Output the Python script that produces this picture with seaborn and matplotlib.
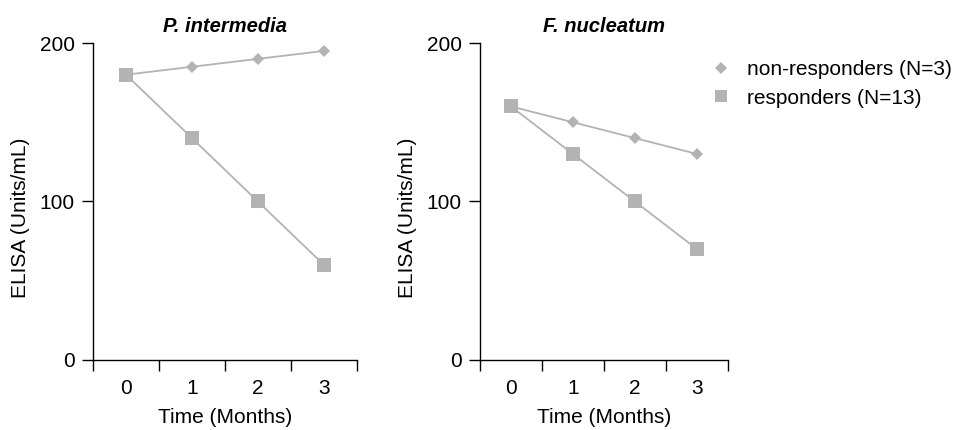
import pandas as pd
import seaborn as sns
import matplotlib.pyplot as plt
from matplotlib.lines import Line2D

months = [0, 1, 2, 3]
groups = ['non-responders (N=3)', 'responders (N=13)']

# P. intermedia
pi_non = [180, 185, 190, 195]
pi_resp = [180, 140, 100, 60]
# F. nucleatum
fn_non = [160, 150, 140, 130]
fn_resp = [160, 130, 100, 70]

def make_df(non, resp):
    return pd.DataFrame({
        'month': months * 2,
        'elisa': non + resp,
        'group': [groups[0]] * 4 + [groups[1]] * 4,
    })

sns.set_style('white')
plt.rcParams['font.family'] = ['Liberation Sans', 'DejaVu Sans']
plt.rcParams['text.color'] = 'black'
plt.rcParams['axes.labelcolor'] = 'black'
plt.rcParams['xtick.color'] = 'black'
plt.rcParams['ytick.color'] = 'black'

gray = '#b3b3b3'
fig = plt.figure(figsize=(9.56, 4.3), dpi=100)
ax1 = fig.add_axes([0.0973, 0.1628, 0.276, 0.7372])
ax2 = fig.add_axes([0.502, 0.1628, 0.2594, 0.7372])

panels = [(ax1, make_df(pi_non, pi_resp), 'P. intermedia'),
          (ax2, make_df(fn_non, fn_resp), 'F. nucleatum')]

for ax, df, title in panels:
    sns.lineplot(data=df, x='month', y='elisa', hue='group', style='group',
                 markers={groups[0]: 'D', groups[1]: 's'}, dashes=False,
                 palette=[gray, gray], linewidth=1.3, markeredgewidth=0,
                 ax=ax, legend=False)
    for ln, ms in zip(ax.lines, [6.5, 10]):
        ln.set_markersize(ms)
    ax.set_xlim(-0.5, 3.5)
    ax.set_ylim(0, 200)
    ax.set_yticks([0, 100, 200])
    ax.set_xticks(months)
    ax.set_xticks([-0.5, 0.5, 1.5, 2.5, 3.5], minor=True)
    ax.tick_params(axis='x', which='major', length=0, pad=14, labelsize=15)
    ax.tick_params(axis='x', which='minor', length=8, width=1, direction='out', color='black', bottom=True)
    ax.tick_params(axis='y', length=8, width=1, direction='out', color='black', labelsize=15, left=True, pad=5)
    for s in ['top', 'right']:
        ax.spines[s].set_visible(False)
    for s in ['left', 'bottom']:
        ax.spines[s].set_color('black')
        ax.spines[s].set_linewidth(1)
    ax.set_xlabel('Time (Months)', fontsize=15, labelpad=7)
    ax.set_ylabel('ELISA (Units/mL)', fontsize=15, labelpad=7)
    ax.yaxis.label.set_y(0.45)
    ax.set_title(title, fontsize=14.5, fontweight='bold', style='italic', pad=8)

handles = [Line2D([], [], color=gray, marker='D', markersize=6.5, linestyle='None', markeredgewidth=0),
           Line2D([], [], color=gray, marker='s', markersize=9, linestyle='None', markeredgewidth=0)]
fig.legend(handles, groups, loc='upper left', bbox_to_anchor=(0.739, 0.86),
           frameon=False, fontsize=15, handlelength=1.4, handletextpad=0.55,
           labelspacing=0.45, borderpad=0, borderaxespad=0)

fig.savefig('out.png', dpi=100)
